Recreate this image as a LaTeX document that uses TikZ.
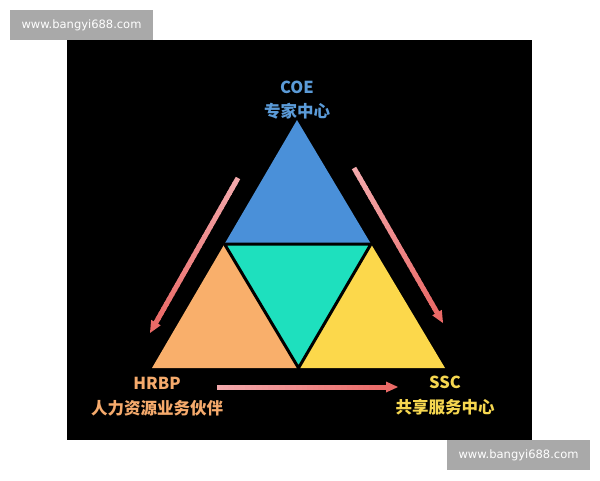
\documentclass[tikz,border=0pt]{standalone}
\usepackage{fontspec}
\setmainfont{Noto Sans CJK SC}
\newfontfamily\wmfont{DejaVu Sans}
\usetikzlibrary{calc}
\definecolor{coeblue}{HTML}{4A90D9}
\definecolor{teal}{HTML}{1EE0BE}
\definecolor{orangetri}{HTML}{F9AF6B}
\definecolor{yellowtri}{HTML}{FCD84B}
\definecolor{coetext}{HTML}{5B9BD8}
\definecolor{hrtext}{HTML}{F5AA6C}
\definecolor{ssctext}{HTML}{F6D750}
\definecolor{arrstart}{HTML}{F3A9AC}
\definecolor{arrend}{HTML}{EA6A67}
\definecolor{wmgray}{HTML}{A9A9A9}
\newcommand{\gradarrow}[2]{%
  \coordinate (hb) at ($(#2)!12pt!(#1)$);
  \foreach \i in {0,...,29} {
    \pgfmathsetmacro\s{\i/30}
    \pgfmathsetmacro\e{(\i+1)/30+0.01}
    \pgfmathtruncatemacro\c{\i*100/29}
    \draw[line width=5pt, color=arrend!\c!arrstart] ($(#1)!\s!(hb)$) -- ($(#1)!\e!(hb)$);
  }
  \fill[arrend] (#2) -- ($(hb)!5.5pt!90:(#2)$) -- ($(hb)!5.5pt!-90:(#2)$) -- cycle;
}
\tikzset{
  lbl/.style={font=\bfseries\fontsize{16.5}{19}\selectfont, inner sep=0pt},
  wmbox/.style={fill=wmgray, text=white, minimum width=143pt, minimum height=30pt, inner sep=0pt, font=\wmfont\fontsize{11.5}{13}\selectfont},
  sep/.style={draw=black, line width=3pt, line join=miter}
}
\begin{document}
\begin{tikzpicture}[x=1pt,y=-1pt]
\useasboundingbox (0,0) rectangle (600,480);
\fill[white] (0,0) rectangle (600,480);
\fill[black] (67,40) rectangle (532,440);

% big triangle
\coordinate (A) at (152,368);
\coordinate (B) at (445,368);
\coordinate (C) at (297,120);
\coordinate (Mab) at ($(A)!0.5!(B)$);
\coordinate (Mbc) at ($(B)!0.5!(C)$);
\coordinate (Mca) at ($(C)!0.5!(A)$);
\fill[coeblue] (C) -- (Mca) -- (Mbc) -- cycle;
\fill[orangetri] (A) -- (Mab) -- (Mca) -- cycle;
\fill[yellowtri] (B) -- (Mbc) -- (Mab) -- cycle;
\fill[teal] (Mca) -- (Mbc) -- (Mab) -- cycle;
\draw[sep] (Mca) -- (Mbc) -- (Mab) -- cycle;

% labels
\node[lbl, text=coetext] (coe) at (297,87) {COE};
\node[lbl, text=coetext] (coecn) at (297,111) {专家中心};
\node[lbl, text=hrtext] (hrbp) at (157,383) {HRBP};
\node[lbl, text=hrtext] (hrbpcn) at (157,408) {人力资源业务伙伴};
\node[lbl, text=ssctext] (ssc) at (445,382) {SSC};
\node[lbl, text=ssctext] (ssccn) at (445,407) {共享服务中心};

% arrows
\coordinate (la) at (238,178);
\coordinate (lb) at (150,333);
\coordinate (ra) at (354,168);
\coordinate (rb) at (443,323);
\coordinate (ba) at (217,387);
\coordinate (bb) at (398,387);
\gradarrow{la}{lb}
\gradarrow{ra}{rb}
\gradarrow{ba}{bb}

% watermarks
\node[wmbox] (wm1) at (81.5,25) {www.bangyi688.com};
\node[wmbox] (wm2) at (518.5,455) {www.bangyi688.com};
\end{tikzpicture}
\end{document}
